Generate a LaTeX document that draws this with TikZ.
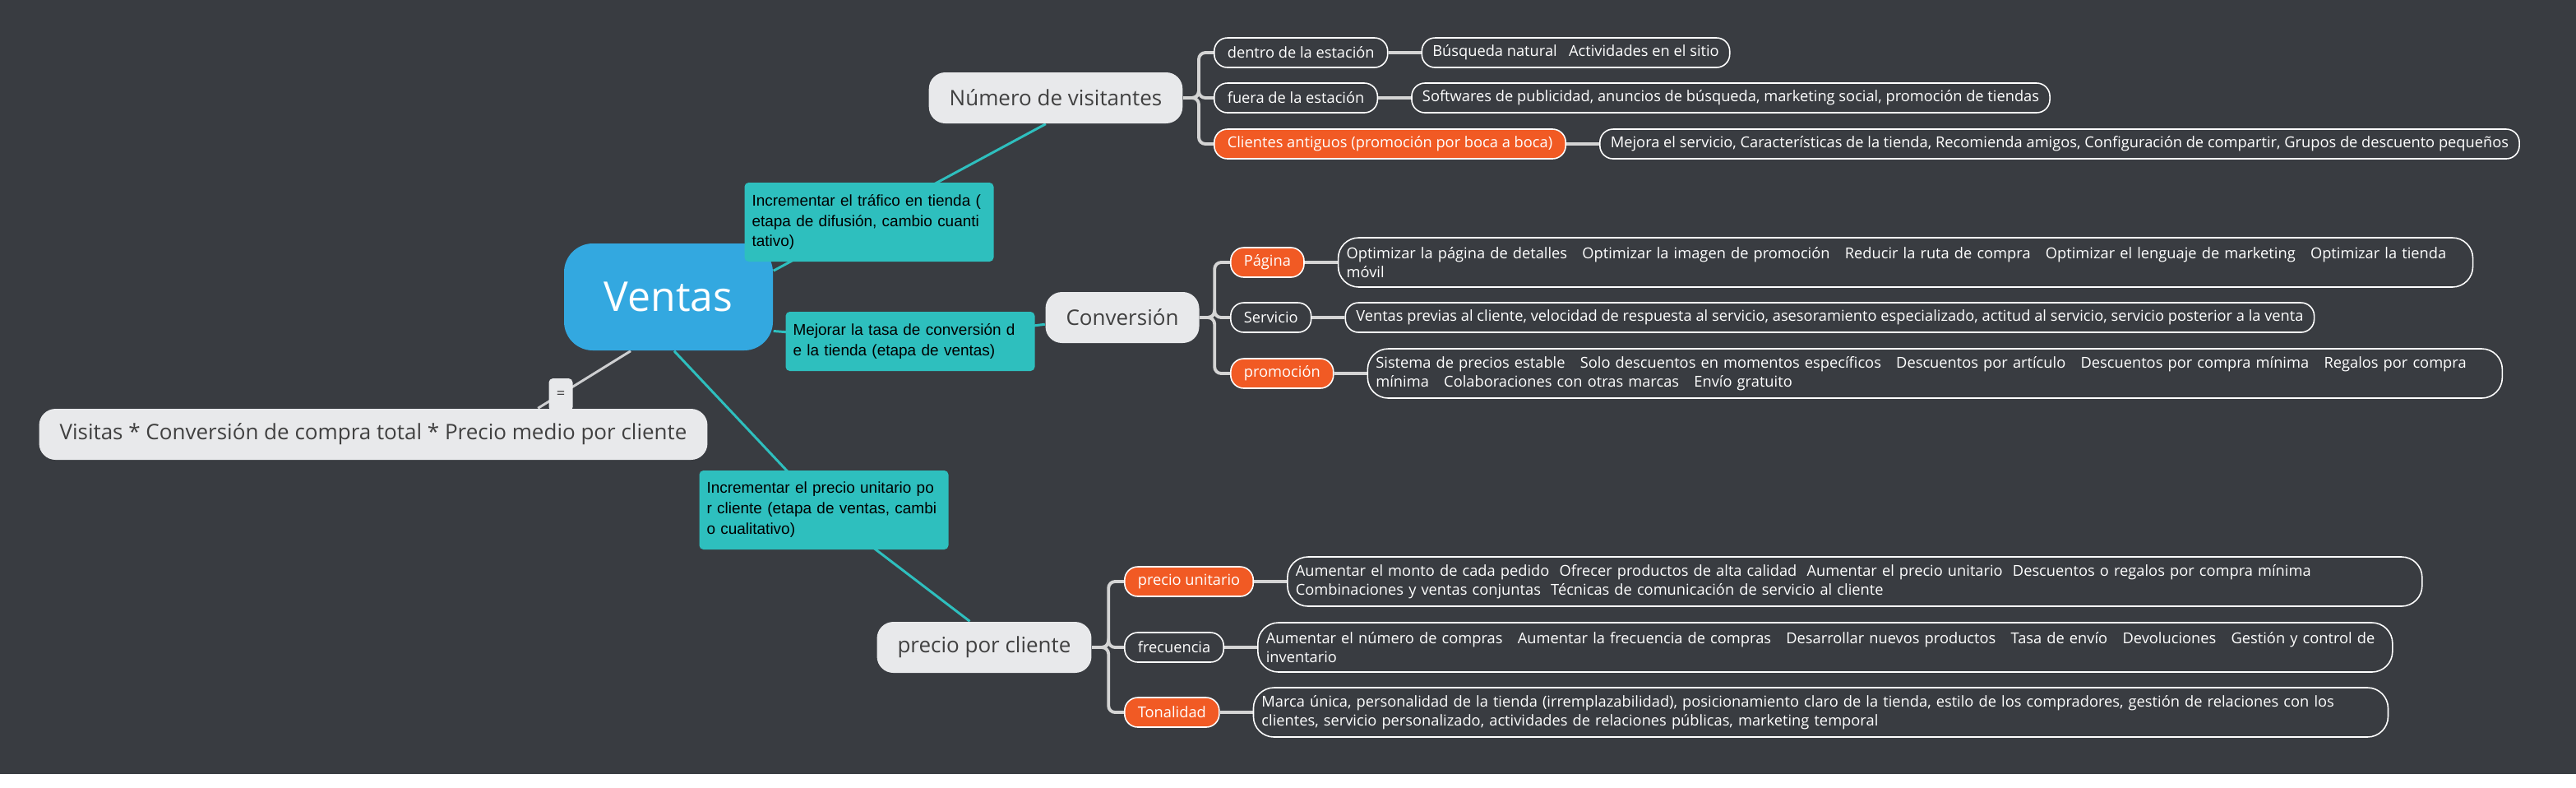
\documentclass[tikz,border=0pt]{standalone}
\usepackage{fontspec}
\setmainfont{Open Sans}
\newfontfamily\stagefont{Liberation Sans}
\usetikzlibrary{positioning, calc, backgrounds}

\begin{document}
\begin{tikzpicture}[
    every node/.style={font=\fontsize{5.2}{6.55}\selectfont, inner sep=0pt},
    topic/.style={rectangle, rounded corners=0.2cm, fill=paper, text=ink,
      minimum height=0.62cm, inner xsep=0.25cm, font=\fontsize{7.4}{9}\selectfont},
    stage/.style={rectangle, rounded corners=0.05cm, fill=aqua, text=black,
      text width=2.85cm, align=left, inner xsep=0.09cm,
      font=\stagefont\fontsize{5.4}{7.1}\selectfont},
    sub/.style={rectangle, rounded corners=0.16cm, draw=white, line width=0.45pt,
      fill=slate, text=white, minimum height=0.36cm, inner xsep=0.16cm},
    leaf/.style={sub, inner xsep=0.13cm},
    leafwide/.style={sub, rounded corners=0.25cm, minimum height=0.60cm,
      text width=13.6cm, inner xsep=0.1cm, align=left},
    tline/.style={draw=aqua, line width=0.85pt},
    fork/.style={draw=wire, line width=1.1pt, rounded corners=0.08cm},
  ]
  \def\leafgap{0.4cm}

  \definecolor{slate}{RGB}{57,60,65}
  \definecolor{paper}{RGB}{232,233,235}
  \definecolor{ink}{RGB}{64,64,64}
  \definecolor{sky}{RGB}{51,168,224}
  \definecolor{aqua}{RGB}{46,191,190}
  \definecolor{flame}{RGB}{241,90,36}
  \definecolor{wire}{RGB}{212,212,212}

  \useasboundingbox (0,0) rectangle (31.33,-9.57);
  \begin{scope}[on background layer]
    \fill[slate] (0,0) rectangle (31.33,-9.41);
  \end{scope}

  \node[rectangle, rounded corners=0.35cm, fill=sky, text=white,
    minimum width=2.54cm, minimum height=1.30cm,
    font=\fontsize{14.2}{17}\selectfont] (ventas) at (8.13,-3.61) {Ventas};

  \node[topic] (num) at (12.84,-1.19) {Número de visitantes};
  \node[topic] (conv) at (13.65,-3.86) {Conversión};
  \node[topic] (precio) at (11.97,-7.87) {precio por cliente};
  \node[topic] (visitas) at (4.54,-5.28)
    {Visitas * Conversión de compra total * Precio medio por cliente};
  \node[rectangle, rounded corners=0.05cm, fill=paper, text=ink,
    minimum width=0.29cm, minimum height=0.40cm] (eq) at (6.82,-4.80) {=};

  \node[stage, minimum height=0.96cm] (stage1) at (10.57,-2.70)
    {Incrementar el tráfico en tienda (\\etapa de difusión, cambio cuanti\\tativo)};
  \node[stage, minimum height=0.72cm] (stage2) at (11.07,-4.15)
    {Mejorar la tasa de conversión d\\e la tienda (etapa de ventas)};
  \node[stage, minimum height=0.96cm] (stage3) at (10.02,-6.20)
    {Incrementar el precio unitario po\\r cliente (etapa de ventas, cambi\\o cualitativo)};

  \foreach \n/\y/\col/\lbl in {
    1/0.64/slate/dentro de la estación,
    2/1.19/slate/fuera de la estación,
    3/1.75/flame/Clientes antiguos (promoción por boca a boca)%
  }{
    \node[sub, fill=\col, anchor=west] (vis\n) at (14.76,-\y) {\lbl};
  }
  \foreach \n/\y/\col/\lbl in {
    1/3.19/flame/Página,
    2/3.86/slate/Servicio,
    3/4.54/flame/promoción%
  }{
    \node[sub, fill=\col, anchor=west] (conv\n) at (14.96,-\y) {\lbl};
  }
  \foreach \n/\y/\col/\lbl in {
    1/7.07/flame/precio unitario,
    2/7.87/slate/frecuencia,
    3/8.66/flame/Tonalidad%
  }{
    \node[sub, fill=\col, anchor=west] (price\n) at (13.67,-\y) {\lbl};
  }

  \node[leaf, right=\leafgap of vis1] (visleaf1)
    {Búsqueda natural\ \ \ Actividades en el sitio};
  \node[leaf, right=\leafgap of vis2] (visleaf2)
    {Softwares de publicidad, anuncios de búsqueda, marketing social, promoción de tiendas};
  \node[leaf, right=\leafgap of vis3] (visleaf3)
    {Mejora el servicio, Características de la tienda, Recomienda amigos, Configuración de compartir, Grupos de descuento pequeños};

  \node[leafwide, right=\leafgap of conv1] (convleaf1)
    {Optimizar la página de detalles\ \ \ Optimizar la imagen de promoción\ \ \ Reducir la ruta de compra\ \ \ Optimizar el lenguaje de marketing\ \ \ Optimizar la tienda\\móvil};
  \node[leaf, right=\leafgap of conv2] (convleaf2)
    {Ventas previas al cliente, velocidad de respuesta al servicio, asesoramiento especializado, actitud al servicio, servicio posterior a la venta};
  \node[leafwide, right=\leafgap of conv3] (convleaf3)
    {Sistema de precios estable\ \ \ Solo descuentos en momentos específicos\ \ \ Descuentos por artículo\ \ \ Descuentos por compra mínima\ \ \ Regalos por compra\\mínima\ \ \ Colaboraciones con otras marcas\ \ \ Envío gratuito};

  \node[leafwide, right=\leafgap of price1] (priceleaf1)
    {Aumentar el monto de cada pedido\ \ Ofrecer productos de alta calidad\ \ Aumentar el precio unitario\ \ Descuentos o regalos por compra mínima\\Combinaciones y ventas conjuntas\ \ Técnicas de comunicación de servicio al cliente};
  \node[leafwide, right=\leafgap of price2] (priceleaf2)
    {Aumentar el número de compras\ \ \ Aumentar la frecuencia de compras\ \ \ Desarrollar nuevos productos\ \ \ Tasa de envío\ \ \ Devoluciones\ \ \ Gestión y control de\\inventario};
  \node[leafwide, right=\leafgap of price3] (priceleaf3)
    {Marca única, personalidad de la tienda (irremplazabilidad), posicionamiento claro de la tienda, estilo de los compradores, gestión de relaciones con los\\clientes, servicio personalizado, actividades de relaciones públicas, marketing temporal};

  \begin{scope}[on background layer]
    \draw[tline] (ventas.14) -- (num.-111);
    \draw[tline] (ventas.-18) -- (stage2.center) -- (conv.185);
    \draw[tline] (ventas.-84) -- (stage3.center) -- (precio.119);
    \draw[draw=paper!85!slate, line width=0.85pt] (ventas.-125) -- (visitas.9);

    \coordinate (visfork) at ($(num.east)+(0.19,0)$);
    \coordinate (convfork) at ($(conv.east)+(0.18,0)$);
    \coordinate (pricefork) at ($(precio.east)+(0.20,0)$);
    \foreach \n in {1,2,3}{
      \draw[fork] (num.east) -- (visfork) |- (vis\n.west);
      \draw[fork] (conv.east) -- (convfork) |- (conv\n.west);
      \draw[fork] (precio.east) -- (pricefork) |- (price\n.west);
      \draw[fork] (vis\n) -- (visleaf\n);
      \draw[fork] (conv\n) -- (convleaf\n);
      \draw[fork] (price\n) -- (priceleaf\n);
    }
  \end{scope}
\end{tikzpicture}
\end{document}
